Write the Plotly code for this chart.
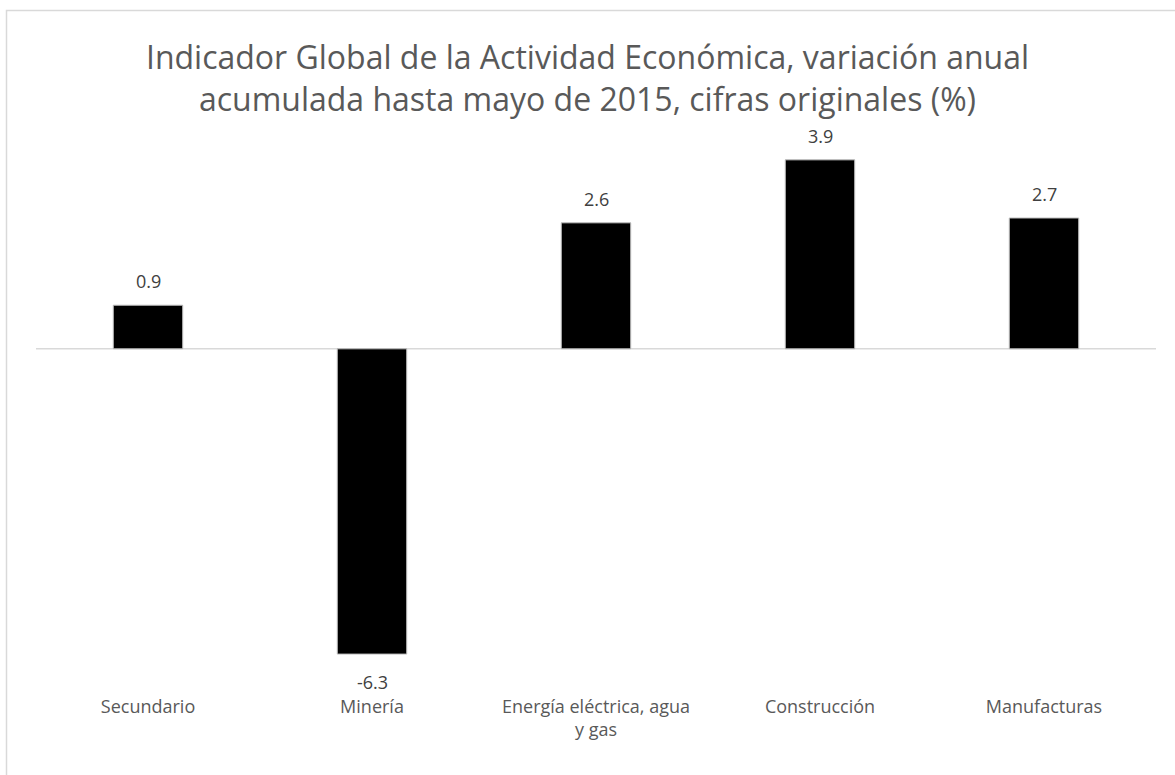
import plotly.graph_objects as go

categories = ["Secundario", "Minería", "Energía eléctrica, agua<br>y gas", "Construcción", "Manufacturas"]
values = [0.9, -6.3, 2.6, 3.9, 2.7]
title_text = "Indicador Global de la Actividad Económica, variación anual<br>acumulada hasta mayo de 2015, cifras originales (%)"

FONT = "Open Sans"
W, H = 1175, 775
L, T, PW, PH = 36, 155, 1120, 533

fig = go.Figure()
fig.add_trace(go.Bar(
    x=categories, y=values,
    marker=dict(color="#000000", line=dict(color="#bfbfbf", width=1)),
    width=0.31,
    hoverinfo="x+y",
))

annotations = []
for c, v in zip(categories, values):
    annotations.append(dict(
        x=c, y=v, xref="x", yref="y", text=f"{v:.1f}", showarrow=False,
        yshift=24 if v >= 0 else -28,
        font=dict(family=FONT, size=18, color="#404040"),
    ))

fig.update_layout(
    width=W, height=H,
    margin=dict(l=L, r=W - L - PW, t=T, b=H - T - PH),
    paper_bgcolor="white", plot_bgcolor="white",
    showlegend=False,
    title=dict(text=title_text, x=0.5, xanchor="center", y=1 - 69 / H, yanchor="middle",
               font=dict(family=FONT, size=32, color="#595959")),
    annotations=annotations,
    xaxis=dict(showgrid=False, showline=False, ticks="", ticklabelstandoff=6,
               tickfont=dict(family=FONT, size=18, color="#595959")),
    yaxis=dict(range=[-7, 4], showgrid=False, showticklabels=False, showline=False,
               zeroline=False),
    shapes=[
        dict(type="rect", xref="paper", yref="paper",
             x0=(6.5 - L) / PW, x1=1.2, y0=-0.3, y1=(T + PH - 10.5) / PH,
             line=dict(color="#d9d9d9", width=1.5), fillcolor="rgba(0,0,0,0)", layer="below"),
        dict(type="line", xref="paper", yref="y", x0=0, x1=1, y0=0, y1=0,
             line=dict(color="#d9d9d9", width=1.5), layer="below"),
    ],
)

fig.write_html("out.html", config={"displayModeBar": False},
               post_script="document.body.style.margin='0px';")
